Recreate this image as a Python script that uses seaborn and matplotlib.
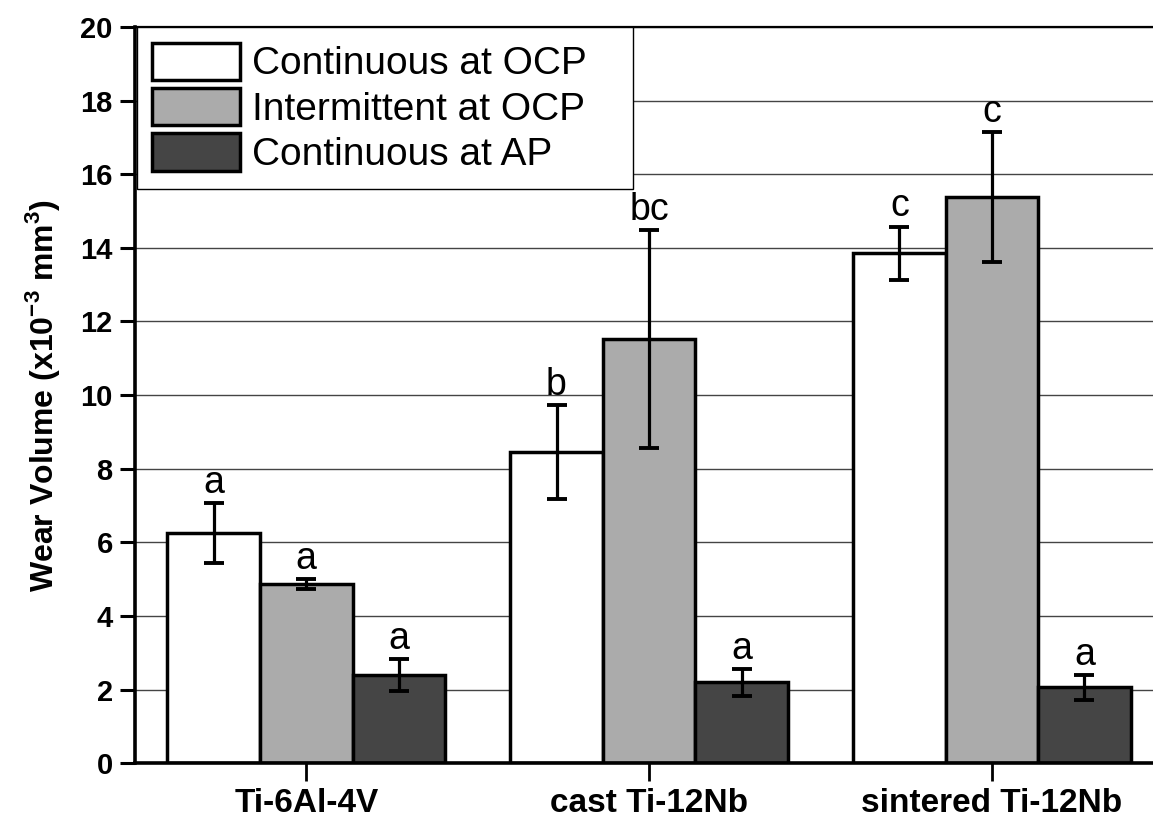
import pandas as pd
import matplotlib
matplotlib.use("Agg")
import matplotlib.pyplot as plt
import seaborn as sns
from matplotlib.patches import Patch

# data
alloys = ["Ti-6Al-4V", "cast Ti-12Nb", "sintered Ti-12Nb"]
conditions = ["Continuous at OCP", "Intermittent at OCP", "Continuous at AP"]
cont_ocp = [6.25, 8.46, 13.86]
cont_ocp_err = [0.82, 1.27, 0.72]
inter_ocp = [4.86, 11.52, 15.38]
inter_ocp_err = [0.14, 2.96, 1.77]
cont_ap = [2.40, 2.20, 2.06]
cont_ap_err = [0.44, 0.37, 0.33]
letters = [["a", "b", "c"], ["a", "bc", "c"], ["a", "a", "a"]]
colors = ["#ffffff", "#ababab", "#454545"]

values = [cont_ocp, inter_ocp, cont_ap]
errors = [cont_ocp_err, inter_ocp_err, cont_ap_err]

rows = []
for cond, vals in zip(conditions, values):
    for alloy, v in zip(alloys, vals):
        rows.append({"alloy": alloy, "condition": cond, "volume": v})
df = pd.DataFrame(rows)

sns.set_style("ticks")
plt.rcParams["font.family"] = ["Liberation Sans", "DejaVu Sans"]
for key in ["text.color", "axes.labelcolor", "xtick.color", "ytick.color"]:
    plt.rcParams[key] = "black"

fig = plt.figure(figsize=(11.53, 8.18), dpi=100)
ax = fig.add_axes([0.117, 0.067, 0.883, 0.9])
ax.set_axisbelow(True)
ax.yaxis.grid(True, color="#444444", linewidth=1.0)

sns.barplot(data=df, x="alloy", y="volume", hue="condition", order=alloys,
            hue_order=conditions, palette=colors, width=0.81, gap=0,
            edgecolor="black", linewidth=2.5, errorbar=None, legend=False,
            saturation=1, ax=ax)

# error bars and significance letters
bar_groups = list(ax.containers)
for i, cont in enumerate(bar_groups):
    for j, bar in enumerate(cont):
        xc = bar.get_x() + bar.get_width() / 2
        v = values[i][j]
        e = errors[i][j]
        ax.errorbar(xc, v, yerr=e, color="black", elinewidth=2.3,
                    capsize=7, capthick=2.8, zorder=5)
        ax.annotate(letters[i][j], (xc, v + e), xytext=(0, 1.5),
                    textcoords="offset points", ha="center", va="bottom",
                    fontsize=27)

ax.set_xlim(-0.5, 2.47)
ax.set_ylim(0, 20)
ax.set_yticks(range(0, 21, 2))
ax.set_xlabel("")
ax.set_ylabel("Wear Volume (x10$^{\\mathregular{-3}}$ mm$^{\\mathregular{3}}$)",
              fontsize=23, fontweight="bold", labelpad=13)
ax.tick_params(axis="y", direction="out", length=11, width=2.2, labelsize=21, pad=5)
ax.tick_params(axis="x", direction="out", length=13, width=2.0, labelsize=24, pad=5)
for lab in ax.get_xticklabels() + ax.get_yticklabels():
    lab.set_fontweight("bold")

for s in ["left", "bottom"]:
    ax.spines[s].set_linewidth(2.6)
    ax.spines[s].set_color("black")
ax.spines["top"].set_linewidth(1.6)
ax.spines["top"].set_color("black")
ax.spines["right"].set_visible(False)

handles = [Patch(facecolor=c, edgecolor="black", linewidth=2.5, label=l)
           for c, l in zip(colors, conditions)]
leg_w = (633 - 137) / (0.883 * 1153)
leg = ax.legend(handles=handles, loc="upper left",
                bbox_to_anchor=(0.002, 0.0, leg_w, 1.0), mode="expand",
                frameon=True, fancybox=False, edgecolor="black", framealpha=1,
                fontsize=28, handlelength=2.25, handleheight=1.1,
                borderpad=0.4, labelspacing=0.14, handletextpad=0.3,
                borderaxespad=0)
leg.get_frame().set_linewidth(1.0)

fig.savefig("out.png", dpi=100)
